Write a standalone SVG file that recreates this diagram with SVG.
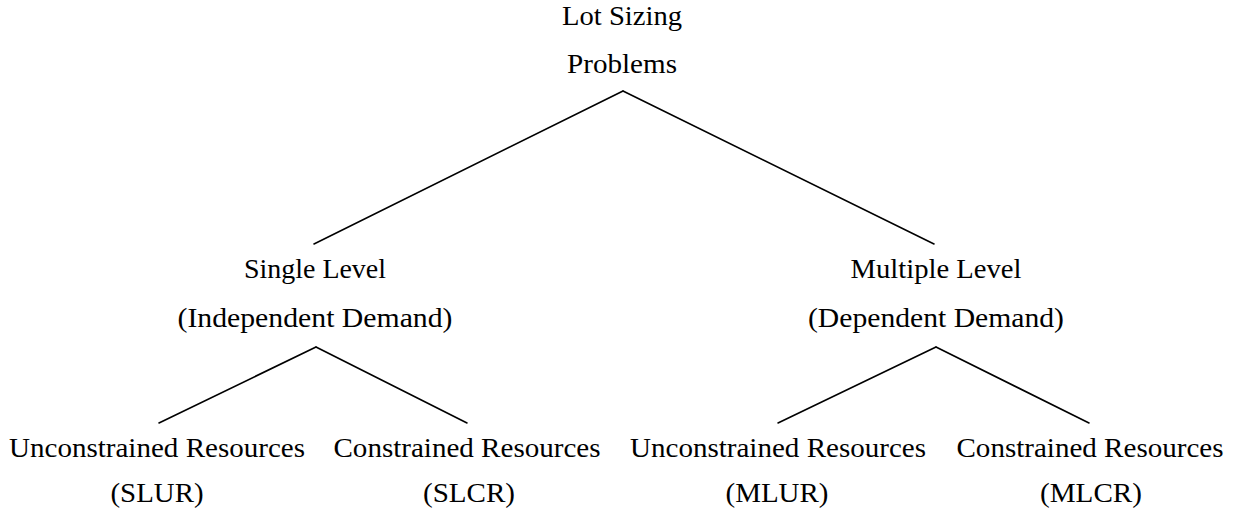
<svg xmlns="http://www.w3.org/2000/svg" width="1235" height="516" viewBox="0 0 1235 516">
<style>
  text { font-family: "Liberation Serif", "Times New Roman", serif; font-size: 27px; fill: #000; text-anchor: middle; }
  .edge { stroke: #000; stroke-width: 1.6; fill: none; stroke-linecap: round; }
</style>
<rect width="1235" height="516" fill="#fff"/>
<g id="connectors">
  <line class="edge" x1="623" y1="91" x2="314" y2="244"/>
  <line class="edge" x1="623" y1="91" x2="934" y2="244"/>
  <line class="edge" x1="316" y1="347" x2="159" y2="423"/>
  <line class="edge" x1="316" y1="347" x2="467" y2="423"/>
  <line class="edge" x1="936" y1="347" x2="778" y2="423"/>
  <line class="edge" x1="936" y1="347" x2="1089" y2="423"/>
</g>
<g id="root">
  <text x="622" y="25" textLength="120" lengthAdjust="spacingAndGlyphs">Lot Sizing</text>
  <text x="622" y="73" textLength="110" lengthAdjust="spacingAndGlyphs">Problems</text>
</g>
<g id="single-level">
  <text x="315" y="278" textLength="142" lengthAdjust="spacingAndGlyphs">Single Level</text>
  <text x="315" y="327" textLength="275" lengthAdjust="spacingAndGlyphs">(Independent Demand)</text>
</g>
<g id="multiple-level">
  <text x="936" y="278" textLength="171" lengthAdjust="spacingAndGlyphs">Multiple Level</text>
  <text x="936" y="327" textLength="256" lengthAdjust="spacingAndGlyphs">(Dependent Demand)</text>
</g>
<g id="slur">
  <text x="157" y="457" textLength="296" lengthAdjust="spacingAndGlyphs">Unconstrained Resources</text>
  <text x="157" y="502" textLength="93" lengthAdjust="spacingAndGlyphs">(SLUR)</text>
</g>
<g id="slcr">
  <text x="467" y="457" textLength="267" lengthAdjust="spacingAndGlyphs">Constrained Resources</text>
  <text x="469" y="502" textLength="92" lengthAdjust="spacingAndGlyphs">(SLCR)</text>
</g>
<g id="mlur">
  <text x="778" y="457" textLength="296" lengthAdjust="spacingAndGlyphs">Unconstrained Resources</text>
  <text x="777" y="502" textLength="103" lengthAdjust="spacingAndGlyphs">(MLUR)</text>
</g>
<g id="mlcr">
  <text x="1090" y="457" textLength="267" lengthAdjust="spacingAndGlyphs">Constrained Resources</text>
  <text x="1091" y="502" textLength="102" lengthAdjust="spacingAndGlyphs">(MLCR)</text>
</g>
</svg>
